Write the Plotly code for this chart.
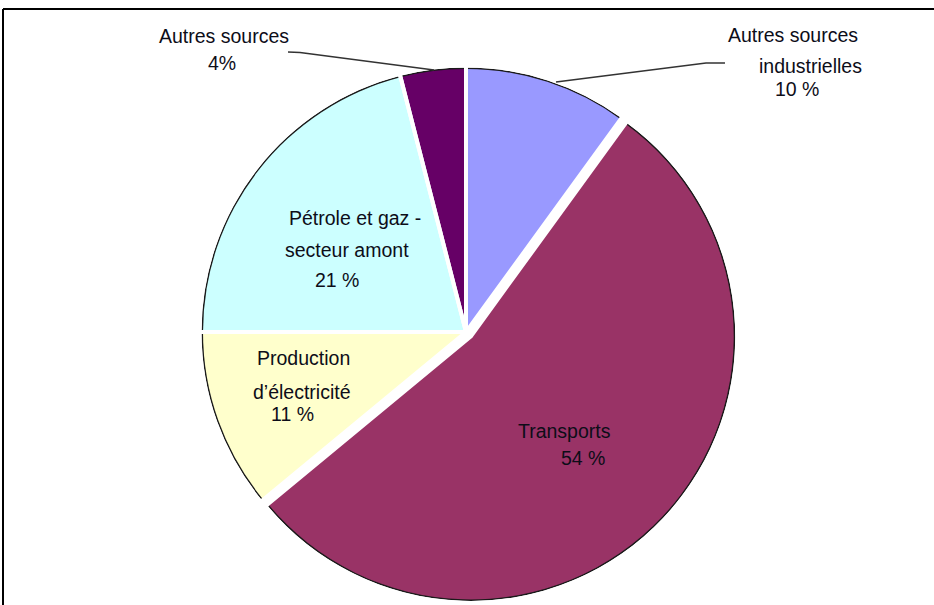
import plotly.graph_objects as go

W, H = 934, 605

# ---- data ----
categories = ["Autres sources industrielles", "Transports", "Production d'électricité",
              "Pétrole et gaz - secteur amont", "Autres sources"]
values = [10, 54, 11, 21, 4]
colors = ["#9999FF", "#993366", "#FFFFCC", "#CCFFFF", "#660066"]
pulled = [0, 1, 0, 0, 0]  # Transports is exploded

# label lines (text, x px, y px)
label_lines = [
    ("Autres sources", 224, 36), ("4%", 222, 63),
    ("Autres sources", 793, 35), ("industrielles", 810, 66), ("10 %", 797, 89),
    ("Pétrole et gaz -", 355, 218), ("secteur amont", 347, 250), ("21 %", 337, 280),
    ("Production", 303, 358), ("d\u2019électricité", 302, 392), ("11 %", 292, 414),
    ("Transports", 564, 431), ("54 %", 583, 458),
]
leaders = [
    [(288, 52), (300, 52.5), (434, 70)],
    [(725, 63), (706, 63), (556, 82)],
]

# ---- geometry ----
CX, CY = 466, 332          # pie centre (px, from top)
R0 = 263                   # coloured pie radius
P = 6.5                    # pull in px
RING = 1.5
GAP = 4

def px_to_paper(x, y):
    return x / W, 1 - y / H

cy_bottom = H - CY

def pie(R, marker_colors, line_w, line_c, hover=True):
    half = R + P
    pf = P / R
    return go.Pie(
        labels=categories, values=values, sort=False, direction="clockwise",
        rotation=0, textinfo="none", showlegend=False,
        pull=[pf * p for p in pulled],
        marker=dict(colors=marker_colors, line=dict(width=line_w, color=line_c)),
        domain=dict(x=[(CX - half) / W, (CX + half) / W], y=[0, 2 * cy_bottom / H]),
        hoverinfo="label+percent" if hover else "skip",
    )

fig = go.Figure()
fig.add_trace(pie(R0 + RING, ["#1a1a1a"] * len(values), 0, "#1a1a1a", hover=False))
fig.add_trace(pie(R0, colors, 0, "white"))
fig.add_trace(pie(R0 + RING + GAP / 2, ["rgba(0,0,0,0)"] * len(values), GAP, "white", hover=False))

annotations = []
for txt, x, y in label_lines:
    xp, yp = px_to_paper(x, y)
    annotations.append(dict(text=txt, x=xp, y=yp, xref="paper", yref="paper",
                            xanchor="center", yanchor="middle", showarrow=False,
                            font=dict(family="Liberation Sans, Arial, sans-serif",
                                      size=19.5, color="#0d0d18")))

shapes = []
for pts in leaders:
    path = "M " + " L ".join(f"{px_to_paper(x, y)[0]:.5f},{px_to_paper(x, y)[1]:.5f}" for x, y in pts)
    shapes.append(dict(type="path", path=path, xref="paper", yref="paper",
                       line=dict(color="#333333", width=1.5)))
# frame (top and left edges)
shapes.append(dict(type="line", xref="paper", yref="paper",
                   x0=3 / W, x1=1, y0=1 - 9 / H, y1=1 - 9 / H, line=dict(color="black", width=2)))
shapes.append(dict(type="line", xref="paper", yref="paper",
                   x0=3 / W, x1=3 / W, y0=1 - 9 / H, y1=0, line=dict(color="black", width=2)))

fig.update_layout(width=W, height=H, margin=dict(l=0, r=0, t=0, b=0),
                  paper_bgcolor="white", plot_bgcolor="white",
                  annotations=annotations, shapes=shapes)
fig.write_html("out.html")
